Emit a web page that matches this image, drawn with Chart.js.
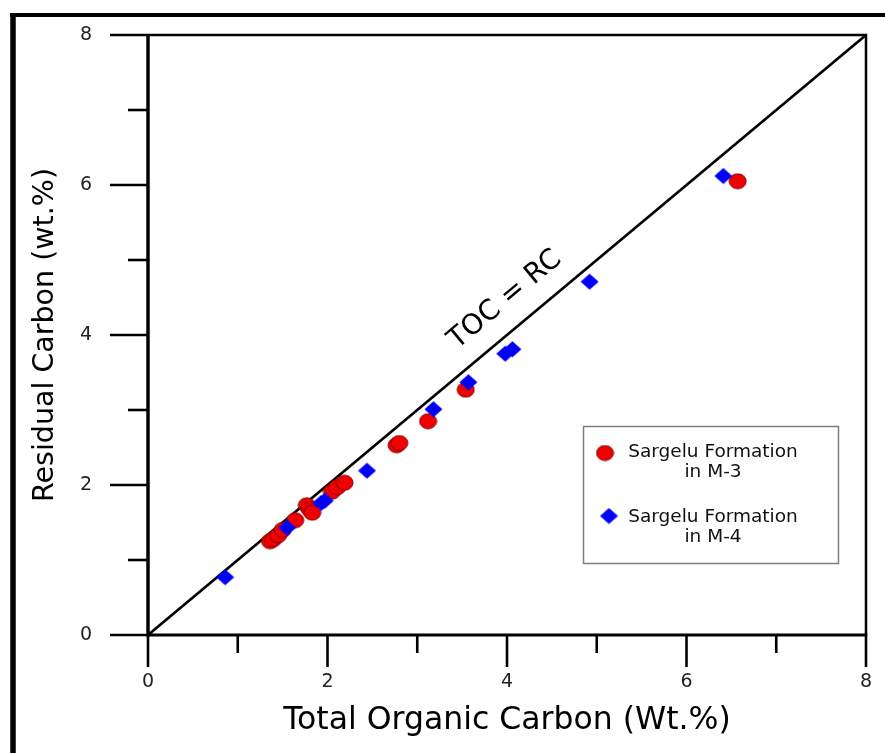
<!DOCTYPE html>
<html>
<head>
<meta charset="utf-8">
<script src="https://cdn.jsdelivr.net/npm/chart.js@4.4.1/dist/chart.umd.min.js"></script>
<style>
  html, body { margin: 0; padding: 0; background: #fff; }
  #wrap { width: 885px; height: 753px; position: relative; }
</style>
</head>
<body>
<div id="wrap"><canvas id="c"></canvas></div>
<script>
// ---- data ----
const m3Toc = [1.36, 1.40, 1.45, 1.50, 1.64, 1.77, 1.80, 1.83, 2.05, 2.11, 2.19, 2.77, 2.80, 3.12, 3.54, 6.57];
const m3Rc  = [1.25, 1.28, 1.33, 1.40, 1.53, 1.73, 1.68, 1.63, 1.91, 1.97, 2.03, 2.53, 2.56, 2.85, 3.27, 6.05];
const m4Toc = [0.86, 1.55, 1.93, 1.97, 2.44, 3.18, 3.57, 3.98, 4.06, 4.92, 6.41];
const m4Rc  = [0.77, 1.43, 1.76, 1.79, 2.19, 3.01, 3.37, 3.75, 3.81, 4.71, 6.12];
const lineX = [0, 8];
const lineY = [0, 8];
const m3Name = ['Sargelu Formation', 'in M-3'];
const m4Name = ['Sargelu Formation', 'in M-4'];
const majorTicks = [0, 2, 4, 6, 8];
const minorTicks = [1, 3, 5, 7];
const xTitle = 'Total Organic Carbon (Wt.%)';
const yTitle = 'Residual Carbon (wt.%)';
const lineText = 'TOC = RC';

const FONT = "'DejaVu Sans', 'Liberation Sans', Arial, sans-serif";

// marker images
function ellipseImg() {
  const c = document.createElement('canvas');
  c.width = 19; c.height = 17;
  const g = c.getContext('2d');
  g.beginPath();
  g.ellipse(9.5, 8.5, 8.5, 7.5, 0, 0, Math.PI * 2);
  g.fillStyle = '#f00000';
  g.fill();
  g.lineWidth = 1;
  g.strokeStyle = '#7a0000';
  g.stroke();
  return c;
}
function diamondImg() {
  const c = document.createElement('canvas');
  c.width = 19; c.height = 17;
  const g = c.getContext('2d');
  g.beginPath();
  g.moveTo(9.5, 0.5); g.lineTo(18.5, 8.5); g.lineTo(9.5, 16.5); g.lineTo(0.5, 8.5);
  g.closePath();
  g.fillStyle = '#0000f5';
  g.fill();
  return c;
}
const redMark = ellipseImg();
const blueMark = diamondImg();

const toPts = (xs, ys) => xs.map((x, i) => ({ x: x, y: ys[i] }));

const framePlugin = {
  id: 'framePlugin',
  beforeDraw(chart) {
    const ctx = chart.ctx;
    ctx.save();
    ctx.fillStyle = '#fff';
    ctx.fillRect(0, 0, chart.width, chart.height);
    ctx.restore();
  },
  afterDraw(chart) {
    const ctx = chart.ctx;
    const xs = chart.scales.x, ys = chart.scales.y;
    const L = xs.getPixelForValue(0), R = xs.getPixelForValue(8);
    const B = ys.getPixelForValue(0), T = ys.getPixelForValue(8);
    ctx.save();
    ctx.strokeStyle = '#000';
    ctx.lineCap = 'butt';
    // outer picture frame
    ctx.lineWidth = 4;
    ctx.beginPath(); ctx.moveTo(10, 15); ctx.lineTo(chart.width, 15); ctx.stroke();
    ctx.lineWidth = 5.5;
    ctx.beginPath(); ctx.moveTo(13, 13); ctx.lineTo(13, chart.height); ctx.stroke();
    // plot box
    ctx.lineWidth = 2.5;
    ctx.beginPath(); ctx.moveTo(L, T); ctx.lineTo(R, T); ctx.lineTo(R, B); ctx.stroke();
    ctx.lineWidth = 3.5;
    ctx.beginPath(); ctx.moveTo(L, T - 1); ctx.lineTo(L, B + 1.5); ctx.stroke();
    ctx.lineWidth = 3;
    ctx.beginPath(); ctx.moveTo(L - 1.5, B); ctx.lineTo(R + 1.2, B); ctx.stroke();
    // ticks
    ctx.lineWidth = 2.6;
    majorTicks.forEach(v => {
      const py = ys.getPixelForValue(v);
      ctx.beginPath(); ctx.moveTo(L - 38, py); ctx.lineTo(L, py); ctx.stroke();
      const px = xs.getPixelForValue(v);
      ctx.beginPath(); ctx.moveTo(px, B); ctx.lineTo(px, B + 32); ctx.stroke();
    });
    minorTicks.forEach(v => {
      const py = ys.getPixelForValue(v);
      ctx.beginPath(); ctx.moveTo(L - 20, py); ctx.lineTo(L, py); ctx.stroke();
      const px = xs.getPixelForValue(v);
      ctx.beginPath(); ctx.moveTo(px, B); ctx.lineTo(px, B + 18); ctx.stroke();
    });
    // line label
    const ang = Math.atan2(ys.getPixelForValue(8) - ys.getPixelForValue(0), xs.getPixelForValue(8) - xs.getPixelForValue(0));
    ctx.translate(xs.getPixelForValue(3.98), ys.getPixelForValue(4.47));
    ctx.rotate(ang);
    ctx.fillStyle = '#000';
    ctx.font = '28px ' + FONT;
    ctx.textAlign = 'center';
    ctx.textBaseline = 'middle';
    ctx.fillText(lineText, 0, 0);
    ctx.setTransform(1, 0, 0, 1, 0, 0);
    // legend
    ctx.strokeStyle = '#7f7f7f';
    ctx.lineWidth = 1.5;
    ctx.strokeRect(583.5, 426.5, 255, 137);
    ctx.drawImage(redMark, 605 - redMark.width / 2, 453 - redMark.height / 2);
    ctx.drawImage(blueMark, 609 - blueMark.width / 2, 516 - blueMark.height / 2);
    ctx.font = '18.5px ' + FONT;
    ctx.textAlign = 'center';
    ctx.textBaseline = 'alphabetic';
    ctx.fillStyle = '#111';
    ctx.fillText(m3Name[0], 713, 456.5);
    ctx.fillText(m3Name[1], 713, 477);
    ctx.fillText(m4Name[0], 713, 521.5);
    ctx.fillText(m4Name[1], 713, 542);
    ctx.restore();
  }
};

new Chart(document.getElementById('c'), {
  data: {
    datasets: [
      { type: 'scatter', label: m4Name.join(' '), data: toPts(m4Toc, m4Rc),
        pointStyle: blueMark, pointRadius: 9, pointHoverRadius: 9, clip: false },
      { type: 'scatter', label: m3Name.join(' '), data: toPts(m3Toc, m3Rc),
        pointStyle: redMark, pointRadius: 9, pointHoverRadius: 9, clip: false },
      { type: 'line', label: lineText, data: toPts(lineX, lineY),
        borderColor: '#000', borderWidth: 2.6, pointRadius: 0, fill: false, tension: 0 }
    ]
  },
  options: {
    responsive: true,
    maintainAspectRatio: false,
    animation: false,
    events: [],
    layout: { padding: { left: 18, top: 35, right: 19, bottom: 0 } },
    plugins: { legend: { display: false }, tooltip: { enabled: false } },
    scales: {
      x: {
        type: 'linear', position: 'bottom', min: 0, max: 8,
        grid: { display: false, drawTicks: false },
        border: { display: false },
        ticks: { stepSize: 2, color: '#222', padding: 36, font: { family: FONT, size: 19 } },
        afterBuildTicks: s => { s.ticks = majorTicks.map(v => ({ value: v })); },
        title: { display: true, text: xTitle, color: '#000', font: { family: FONT, size: 31.5 }, padding: { top: 0, bottom: 13 } },
        afterFit: s => { s.height = 118; s.paddingLeft = 0; s.paddingRight = 0; s.paddingTop = 0; s.paddingBottom = 0; }
      },
      y: {
        type: 'linear', position: 'left', min: 0, max: 8,
        grid: { display: false, drawTicks: false },
        border: { display: false },
        ticks: { stepSize: 2, color: '#222', padding: 56, font: { family: FONT, size: 19 } },
        afterBuildTicks: s => { s.ticks = majorTicks.map(v => ({ value: v })); },
        title: { display: true, text: yTitle, color: '#000', font: { family: FONT, size: 28.5 }, padding: { top: 10, bottom: 0 } },
        afterFit: s => { s.width = 130; s.paddingLeft = 0; s.paddingRight = 0; s.paddingTop = 0; s.paddingBottom = 0; }
      }
    }
  },
  plugins: [framePlugin]
});
</script>
</body>
</html>
